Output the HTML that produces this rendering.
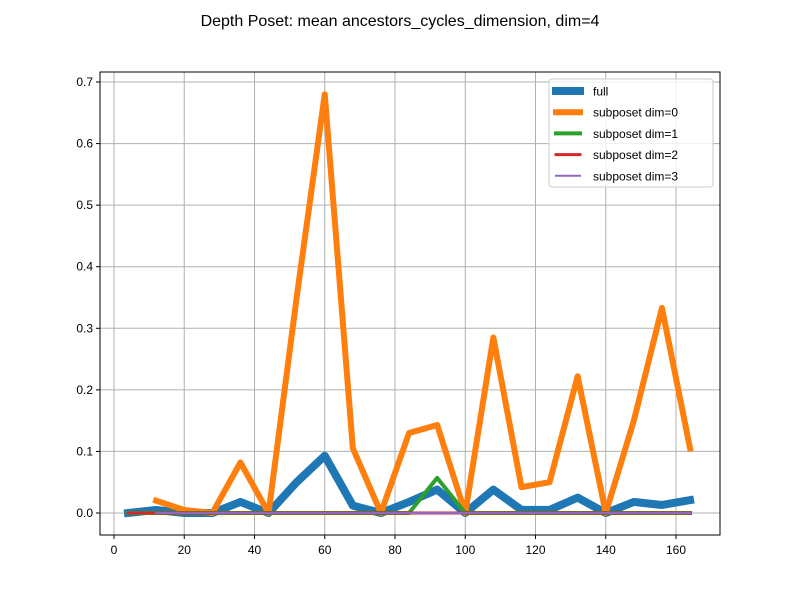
<!DOCTYPE html>
<html><head><meta charset="utf-8"><style>
body{margin:0;background:#fff}
svg text{font-family:"Liberation Sans","DejaVu Sans",sans-serif}
</style></head><body>
<svg id="chart" width="800" height="600" xmlns="http://www.w3.org/2000/svg">
<rect width="800" height="600" fill="#fff"/>
<text x="400" y="26" font-size="16" text-anchor="middle">Depth Poset: mean ancestors_cycles_dimension, dim=4</text>
<g id="grid"></g><g id="series"></g><g id="ticks"></g>
<rect x="100" y="72" width="620" height="463" fill="none" stroke="#000" stroke-width="1"/>
<g id="legend"></g>
</svg>
<script>
const xs = [4,12,20,28,36,44,52,60,68,76,84,92,100,108,116,124,132,140,148,156,164];
const full = [0,0.005,0,0,0.018,0,0.05,0.093,0.012,0,0.018,0.038,0,0.038,0.005,0.005,0.025,0,0.018,0.013,0.021];
const sub0 = [null,0.02,0.005,0,0.082,0,0.35,0.68,0.105,0,0.13,0.143,0,0.285,0.042,0.05,0.222,0,0.15,0.333,0.105];
const sub1 = [0,0,0,0,0,0,0,0,0,0,0,0.057,0,0,0,0,0,0,0,0,0];
const sub2 = [0,0,0,0,0,0,0,0,0,0,0,0,0,0,0,0,0,0,0,0,0];
const sub3 = [null,0,0,0,0,0,0,0,0,0,0,0,0,0,0,0,0,0,0,0,0];
const xTicks = [0,20,40,60,80,100,120,140,160];
const yTicks = [0,0.1,0.2,0.3,0.4,0.5,0.6,0.7];
const seriesNames = ["full","subposet dim=0","subposet dim=1","subposet dim=2","subposet dim=3"];
const NS="http://www.w3.org/2000/svg";
const X=v=>114+v*3.5125, Y=v=>513-v*615.7;
function mk(t,a,p){const e=document.createElementNS(NS,t);for(const k in a)e.setAttribute(k,a[k]);p.appendChild(e);return e;}
const g=document.getElementById('grid'),tk=document.getElementById('ticks'),s=document.getElementById('series'),lg=document.getElementById('legend');
xTicks.forEach(v=>{const x=X(v);
 const l=mk('line',{x1:x,x2:x,y1:72,y2:535,stroke:'#b0b0b0','stroke-width':1},g);
 
 
 mk('line',{x1:x,x2:x,y1:535,y2:539,stroke:'#000'},tk);
 const t=mk('text',{x:x,y:554,'font-size':12,'text-anchor':'middle'},tk);t.textContent=v;
 
 
});
yTicks.forEach(v=>{const y=Y(v);
 const l=mk('line',{x1:100,x2:720,y1:y,y2:y,stroke:'#b0b0b0','stroke-width':1},g);
 
 
 mk('line',{x1:96,x2:100,y1:y,y2:y,stroke:'#000'},tk);
 const t=mk('text',{x:93,y:y+4,'font-size':12,'text-anchor':'end'},tk);t.textContent=v.toFixed(1);
 
 
});
const data=[full,sub0,sub1,sub2,sub3];
const colors=['#1f77b4','#ff7f0e','#2ca02c','#d62728','#9467bd'];
const widths=[8,6,4,3,2];
data.forEach((d,i)=>{
 const pts=d.map((v,j)=>v===null?null:X(xs[j])+','+Y(v)).filter(p=>p!==null).join(' ');
 const p=mk('polyline',{points:pts,fill:'none',stroke:colors[i],'stroke-width':widths[i],'stroke-linejoin':'round','stroke-linecap':'square'},s);
 
 
});
const lb=mk('rect',{x:549,y:79,width:164,height:108,fill:'#fff','fill-opacity':0.8,stroke:'#ccc',rx:3},lg);


seriesNames.forEach((n,i)=>{const y=91+i*21.2;
 const l=mk('line',{x1:556,x2:580,y1:y,y2:y,stroke:colors[i],'stroke-width':widths[i],'stroke-linecap':'square'},lg);
 
 
 const t=mk('text',{x:593,y:y+4.5,'font-size':12},lg);t.textContent=n;
 
 
});
</script>
</body></html>
